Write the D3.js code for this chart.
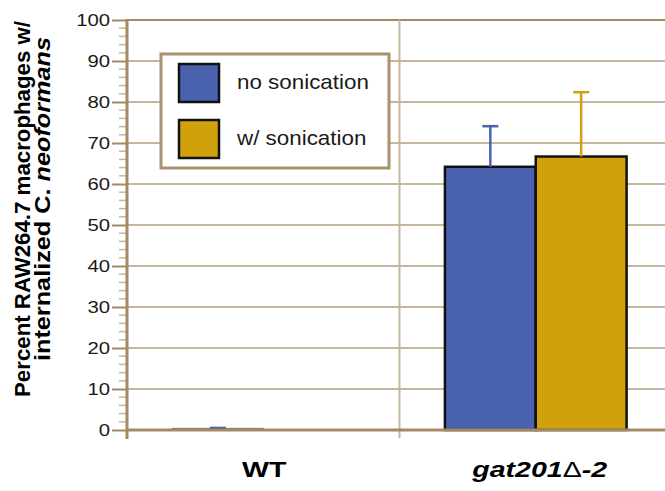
<!DOCTYPE html>
<html>
<head>
<meta charset="utf-8">
<script src="https://cdn.jsdelivr.net/npm/d3@7"></script>
<style>
  html, body { margin: 0; padding: 0; background: #ffffff; }
  svg { display: block; }
</style>
</head>
<body>
<svg id="chart" width="665" height="491"></svg>
<script>
// Data
const categories = ["WT", "gat201\u0394-2"];
const seriesNames = ["no sonication", "w/ sonication"];
const noSonication = [0.4, 64.2];
const noSonicationErr = [0.1, 9.9];
const withSonication = [0, 66.7];
const withSonicationErr = [0, 15.7];
const yTicks = [0, 10, 20, 30, 40, 50, 60, 70, 80, 90, 100];

const seriesColors = ["#4a62ae", "#d0a10a"];
const axisColor = "#a38a62";
const gridColor = "#c6b79f";
const fontFamily = "'Liberation Sans', Arial, Helvetica, sans-serif";
const sx = 1.27; // horizontal stretch of the horizontal lettering

const W = 665, H = 491;
const margin = { left: 127, right: -7, top: 20, bottom: 61 };
const svg = d3.select("#chart");

const x0 = d3.scaleBand()
  .domain(categories)
  .range([margin.left, W - margin.right])
  .paddingInner(0).paddingOuter(0);
const x1 = d3.scaleBand()
  .domain(seriesNames)
  .range([0, x0.bandwidth()])
  .paddingInner(0).paddingOuter(0.5);
const y = d3.scaleLinear().domain([0, 100]).range([H - margin.bottom, margin.top]);

const rows = categories.map((c, i) => ({
  cat: c,
  vals: [
    { s: seriesNames[0], v: noSonication[i], e: noSonicationErr[i], color: seriesColors[0] },
    { s: seriesNames[1], v: withSonication[i], e: withSonicationErr[i], color: seriesColors[1] }
  ]
}));

// Horizontal grid lines
svg.append("g").selectAll("line").data(yTicks.filter(d => d > 0)).join("line")
  .attr("x1", margin.left).attr("x2", W - margin.right)
  .attr("y1", d => y(d)).attr("y2", d => y(d))
  .attr("stroke", d => d === 100 ? axisColor : gridColor)
  .attr("stroke-width", 2);

// Vertical separator between categories
svg.append("line")
  .attr("x1", x0(categories[1])).attr("x2", x0(categories[1]))
  .attr("y1", y(100)).attr("y2", y(0) + 8)
  .attr("stroke", gridColor).attr("stroke-width", 2);

// Bars
const groups = svg.append("g").selectAll("g").data(rows).join("g")
  .attr("transform", d => `translate(${x0(d.cat)},0)`);

groups.selectAll("rect").data(d => d.vals.filter(v => v.v > 0)).join("rect")
  .attr("x", d => x1(d.s))
  .attr("y", d => y(d.v))
  .attr("width", x1.bandwidth())
  .attr("height", d => y(0) - y(d.v))
  .attr("fill", d => d.color)
  .attr("stroke", d => d.v < 2 ? "#777777" : "#111111")
  .attr("stroke-width", d => d.v < 2 ? 1 : 2.5);

// Error bars (upper only)
const eb = groups.selectAll("g.err").data(d => d.vals.filter(v => v.e > 0)).join("g")
  .attr("class", "err");
eb.append("line")
  .attr("x1", d => x1(d.s) + x1.bandwidth() / 2)
  .attr("x2", d => x1(d.s) + x1.bandwidth() / 2)
  .attr("y1", d => y(d.v))
  .attr("y2", d => y(d.v + d.e))
  .attr("stroke", d => d.color).attr("stroke-width", 2.5);
eb.append("line")
  .attr("x1", d => x1(d.s) + x1.bandwidth() / 2 - 8)
  .attr("x2", d => x1(d.s) + x1.bandwidth() / 2 + 8)
  .attr("y1", d => y(d.v + d.e))
  .attr("y2", d => y(d.v + d.e))
  .attr("stroke", d => d.color).attr("stroke-width", 2.5);

// Y axis: minor ticks every 2, major every 10
const minor = d3.range(0, 101, 2).filter(d => d % 10 !== 0);
svg.append("g").selectAll("line").data(minor).join("line")
  .attr("x1", margin.left - 8).attr("x2", margin.left)
  .attr("y1", d => y(d)).attr("y2", d => y(d))
  .attr("stroke", gridColor).attr("stroke-width", 1.5);

const yAxis = d3.axisLeft(y).tickValues(yTicks).tickSize(15).tickPadding(3).tickFormat(d3.format("d"));
const yg = svg.append("g").attr("transform", `translate(${margin.left},0)`).call(yAxis);
yg.select(".domain").remove();
yg.selectAll(".tick line").attr("stroke", axisColor).attr("stroke-width", 2);
yg.selectAll(".tick text")
  .attr("x", null).attr("dy", null)
  .attr("text-anchor", "end")
  .attr("dominant-baseline", "central")
  .attr("transform", `translate(-17,0) scale(${sx},1)`)
  .attr("fill", "#1a1a1a")
  .style("font-family", fontFamily).style("font-size", "16px");

// Axis lines
svg.append("line")
  .attr("x1", margin.left).attr("x2", margin.left)
  .attr("y1", y(100) - 1).attr("y2", y(0) + 9)
  .attr("stroke", axisColor).attr("stroke-width", 3);
svg.append("line")
  .attr("x1", margin.left).attr("x2", W - margin.right)
  .attr("y1", y(0)).attr("y2", y(0))
  .attr("stroke", axisColor).attr("stroke-width", 3);

// Category labels
const xl = svg.append("g").selectAll("text").data(categories).join("text")
  .attr("transform", d => `translate(${x0(d) + x0.bandwidth() / 2 + (d === "WT" ? 1 : 4)},477) scale(${sx},1)`)
  .attr("text-anchor", "middle")
  .attr("fill", "#000")
  .style("font-family", fontFamily).style("font-size", "22.5px").style("font-weight", "bold");
xl.each(function(d) {
  const t = d3.select(this);
  if (d === "WT") { t.text(d); return; }
  t.append("tspan").style("font-style", "italic").text("gat201");
  t.append("tspan").style("font-weight", "normal").text("\u0394");
  t.append("tspan").style("font-style", "italic").text("-2");
});

// Y axis title (two lines)
const yTitle1 = svg.append("text")
  .attr("transform", "translate(30,209) rotate(-90)")
  .attr("text-anchor", "middle")
  .attr("fill", "#000")
  .attr("textLength", 376).attr("lengthAdjust", "spacingAndGlyphs")
  .style("font-family", fontFamily).style("font-size", "22px").style("font-weight", "bold")
  .text("Percent RAW264.7 macrophages w/");
const yTitle2 = svg.append("text")
  .attr("transform", "translate(50,199) rotate(-90)")
  .attr("text-anchor", "middle")
  .attr("fill", "#000")
  .attr("textLength", 324).attr("lengthAdjust", "spacingAndGlyphs")
  .style("font-family", fontFamily).style("font-size", "22px").style("font-weight", "bold");
yTitle2.append("tspan").text("internalized C. ");
yTitle2.append("tspan").style("font-style", "italic").text("neoformans");

// Legend
const lg = svg.append("g");
lg.append("rect")
  .attr("x", 161).attr("y", 54).attr("width", 228).attr("height", 114)
  .attr("fill", "#ffffff").attr("stroke", "#a8916c").attr("stroke-width", 3);
const items = lg.selectAll("g.item").data(seriesNames).join("g")
  .attr("class", "item")
  .attr("transform", (d, i) => `translate(179,${64 + i * 56})`);
items.append("rect")
  .attr("width", 40).attr("height", 38)
  .attr("fill", (d, i) => seriesColors[i])
  .attr("stroke", "#111").attr("stroke-width", 2.5);
items.append("text")
  .attr("transform", "translate(58,25) scale(1.12,1)")
  .attr("fill", "#1a1a1a")
  .style("font-family", fontFamily).style("font-size", "20px")
  .text(d => d);
</script>
</body>
</html>
